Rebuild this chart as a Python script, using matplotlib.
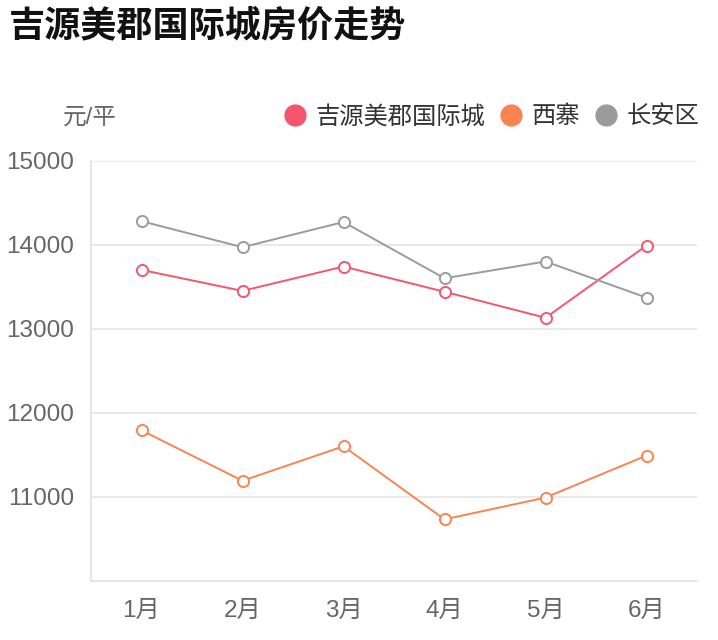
import matplotlib.pyplot as plt
from matplotlib.lines import Line2D

plt.rcParams['font.family'] = ['Liberation Sans', 'Noto Sans CJK SC', 'DejaVu Sans']

# 数据
months = ["1月", "2月", "3月", "4月", "5月", "6月"]
jiyuan = [13700, 13450, 13740, 13440, 13130, 13990]
xizhai = [11790, 11190, 11600, 10730, 10990, 11490]
changan = [14280, 13970, 14270, 13600, 13800, 13370]
series_names = ["吉源美郡国际城", "西寨", "长安区"]
colors = ["#F5566C", "#FA8450", "#9B9B9B"]

fig = plt.figure(figsize=(7.18, 6.4), dpi=100)
ax = fig.add_axes([91/718, 1 - 580.7/640, 606/718, 420/640])

x = range(len(months))
for ys, c in zip([jiyuan, xizhai, changan], colors):
    ax.plot(x, ys, color=c, lw=1.4, marker='o', ms=8, mfc='white',
            mec=c, mew=1.4, zorder=3)

ax.set_xlim(-0.5, len(months) - 0.5)
ax.set_ylim(10000, 15000)
ax.set_yticks([11000, 12000, 13000, 14000, 15000])
ax.set_xticks(list(x))
ax.set_xticklabels(months)
ax.grid(axis='y', color='#E6E6E6', lw=1.2)
ax.set_axisbelow(True)
for s in ['top', 'right']:
    ax.spines[s].set_visible(False)
for s in ['left', 'bottom']:
    ax.spines[s].set_color('#E3E3E3')
    ax.spines[s].set_linewidth(1.2)
ax.tick_params(axis='both', length=0, labelsize=17.5, labelcolor='#666666')
ax.tick_params(axis='y', pad=12)
ax.tick_params(axis='x', pad=14)

fig.text(9/718, 1 - 27/640, "吉源美郡国际城房价走势", fontsize=26,
         fontweight='bold', va='center', ha='left', color='#111111')
fig.text(63/718, 1 - 118/640, "元/平", fontsize=17, va='center',
         ha='left', color='#666666')

# 图例
handles = [Line2D([], [], ls='none', marker='o', ms=15, mfc=c, mec=c)
           for c in colors]
fig.legend(handles, series_names, loc='center right',
           bbox_to_anchor=(709/718, 1 - 117/640), ncol=3, frameon=False,
           fontsize=17.5, handletextpad=0.25, columnspacing=0.45,
           handlelength=1.2, labelcolor='#333333', borderaxespad=0)

fig.savefig('out.png', dpi=100)
